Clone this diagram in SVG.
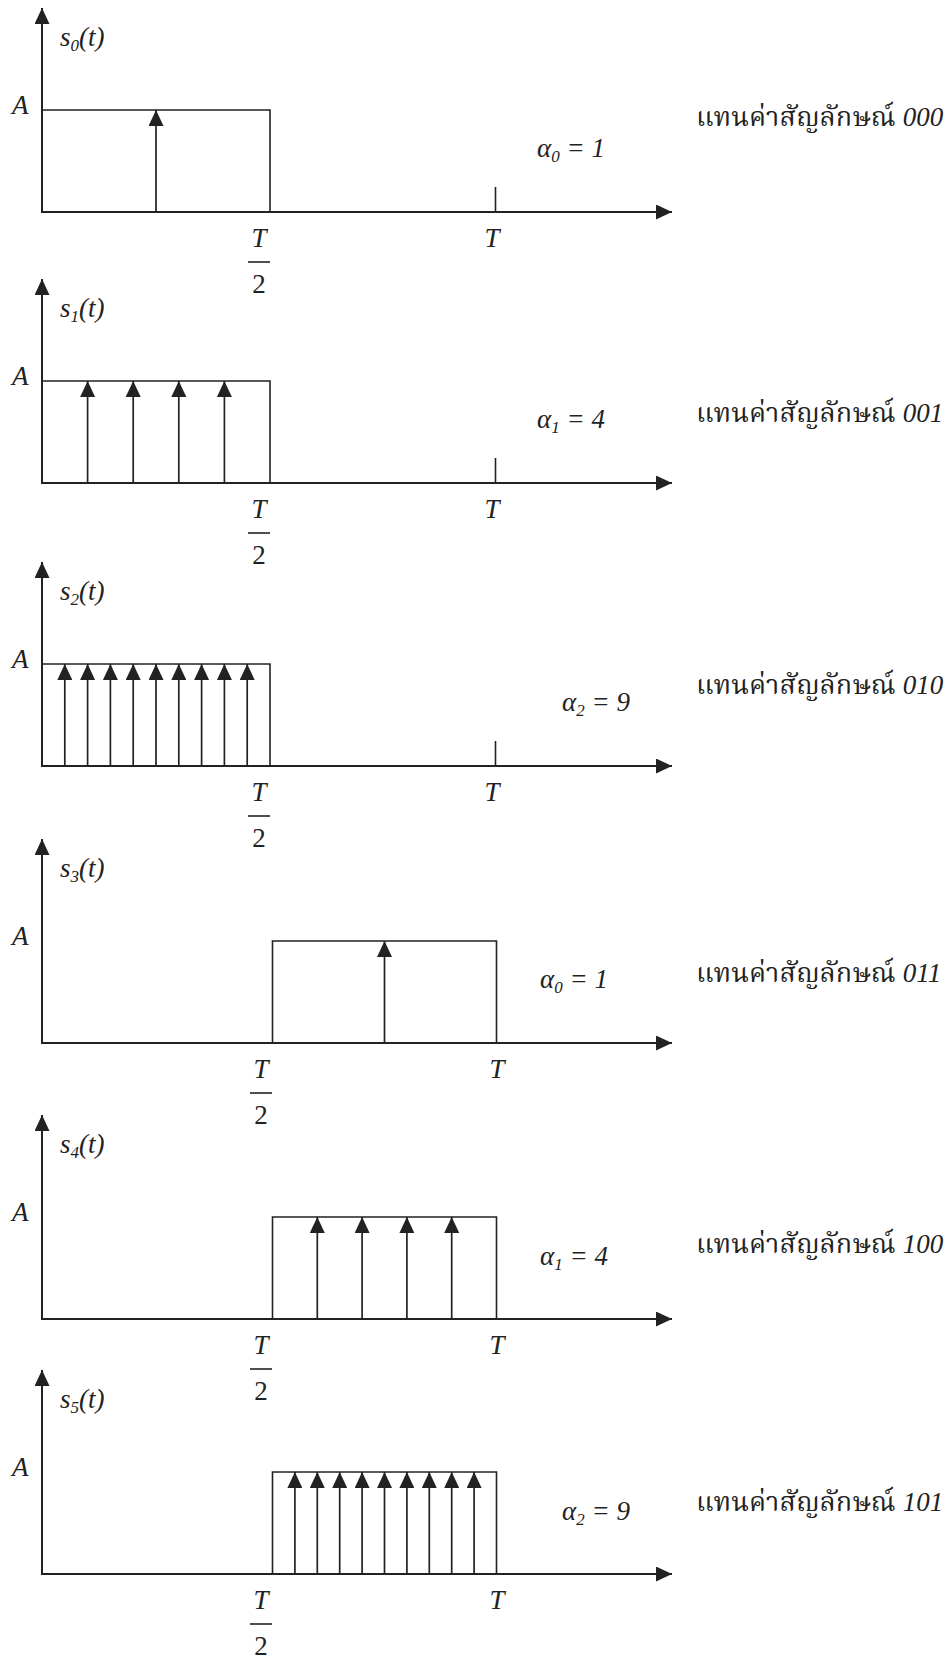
<svg xmlns="http://www.w3.org/2000/svg" width="944" height="1658" viewBox="0 0 944 1658">
<defs>
<marker id="ah" viewBox="0 0 16 15" refX="16" refY="7.5" markerWidth="16" markerHeight="15" markerUnits="userSpaceOnUse" orient="auto">
<path d="M0,0 L16,7.5 L0,15 Z" fill="#222"/>
</marker>
<style>
.ar{stroke:#222;stroke-width:2;fill:none;marker-end:url(#ah)}
.rc{stroke:#222;stroke-width:1.6;fill:none}
.im{stroke:#222;stroke-width:1.7;fill:none;marker-end:url(#ah)}
.tk{stroke:#222;stroke-width:1.6}
.m{font-family:'Liberation Serif','Times New Roman',serif;font-style:italic;font-size:27px;fill:#222}
.n{font-family:'Liberation Serif','Times New Roman',serif;font-size:27px;fill:#222}
.th{font-family:'Kinnari','Norasi','Noto Serif Thai','Noto Sans Thai Looped','Noto Sans Thai','Noto Sans',sans-serif;font-size:27px;fill:#222}
.sb{font-size:17px}
</style>
</defs>
<rect width="944" height="1658" fill="#fff"/>

<g id="panel-s0">
<line class="ar" x1="42" y1="212" x2="42" y2="8"/>
<line class="ar" x1="41" y1="212" x2="672" y2="212"/>
<polyline class="rc" points="42,110 270,110 270,212"/>
<line class="im" x1="156" y1="212" x2="156" y2="110"/>
<line class="tk" x1="495.5" y1="187" x2="495.5" y2="212"/>
<text class="m" x="60" y="46">s<tspan class="sb" dy="5">0</tspan><tspan dy="-5">(t)</tspan></text>
<text class="m" x="12" y="114">A</text>
<text class="m" x="259" y="247" text-anchor="middle">T</text>
<line class="tk" x1="248" y1="262" x2="270" y2="262"/>
<text class="n" x="259" y="293" text-anchor="middle">2</text>
<text class="m" x="492" y="247" text-anchor="middle">T</text>
<text class="m" x="537" y="157">α<tspan class="sb" dy="5">0</tspan><tspan dy="-5"> = 1</tspan></text>
<text class="th" x="696" y="126">แทนค่าสัญลักษณ์ <tspan class="m">000</tspan></text>
</g>

<g id="panel-s1">
<line class="ar" x1="42" y1="483" x2="42" y2="279"/>
<line class="ar" x1="41" y1="483" x2="672" y2="483"/>
<polyline class="rc" points="42,381 270,381 270,483"/>
<line class="im" x1="87.6" y1="483" x2="87.6" y2="381"/>
<line class="im" x1="133.2" y1="483" x2="133.2" y2="381"/>
<line class="im" x1="178.8" y1="483" x2="178.8" y2="381"/>
<line class="im" x1="224.4" y1="483" x2="224.4" y2="381"/>
<line class="tk" x1="495.5" y1="458" x2="495.5" y2="483"/>
<text class="m" x="60" y="317">s<tspan class="sb" dy="5">1</tspan><tspan dy="-5">(t)</tspan></text>
<text class="m" x="12" y="385">A</text>
<text class="m" x="259" y="518" text-anchor="middle">T</text>
<line class="tk" x1="248" y1="533" x2="270" y2="533"/>
<text class="n" x="259" y="564" text-anchor="middle">2</text>
<text class="m" x="492" y="518" text-anchor="middle">T</text>
<text class="m" x="537" y="428">α<tspan class="sb" dy="5">1</tspan><tspan dy="-5"> = 4</tspan></text>
<text class="th" x="696" y="422">แทนค่าสัญลักษณ์ <tspan class="m">001</tspan></text>
</g>

<g id="panel-s2">
<line class="ar" x1="42" y1="766" x2="42" y2="562"/>
<line class="ar" x1="41" y1="766" x2="672" y2="766"/>
<polyline class="rc" points="42,664 270,664 270,766"/>
<line class="im" x1="64.8" y1="766" x2="64.8" y2="664"/>
<line class="im" x1="87.6" y1="766" x2="87.6" y2="664"/>
<line class="im" x1="110.4" y1="766" x2="110.4" y2="664"/>
<line class="im" x1="133.2" y1="766" x2="133.2" y2="664"/>
<line class="im" x1="156" y1="766" x2="156" y2="664"/>
<line class="im" x1="178.8" y1="766" x2="178.8" y2="664"/>
<line class="im" x1="201.6" y1="766" x2="201.6" y2="664"/>
<line class="im" x1="224.4" y1="766" x2="224.4" y2="664"/>
<line class="im" x1="247.2" y1="766" x2="247.2" y2="664"/>
<line class="tk" x1="495.5" y1="741" x2="495.5" y2="766"/>
<text class="m" x="60" y="600">s<tspan class="sb" dy="5">2</tspan><tspan dy="-5">(t)</tspan></text>
<text class="m" x="12" y="668">A</text>
<text class="m" x="259" y="801" text-anchor="middle">T</text>
<line class="tk" x1="248" y1="816" x2="270" y2="816"/>
<text class="n" x="259" y="847" text-anchor="middle">2</text>
<text class="m" x="492" y="801" text-anchor="middle">T</text>
<text class="m" x="562" y="711">α<tspan class="sb" dy="5">2</tspan><tspan dy="-5"> = 9</tspan></text>
<text class="th" x="696" y="694">แทนค่าสัญลักษณ์ <tspan class="m">010</tspan></text>
</g>

<g id="panel-s3">
<line class="ar" x1="42" y1="1043" x2="42" y2="839"/>
<line class="ar" x1="41" y1="1043" x2="672" y2="1043"/>
<polyline class="rc" points="272.5,1043 272.5,941 496.5,941 496.5,1043"/>
<line class="im" x1="384.5" y1="1043" x2="384.5" y2="941"/>
<text class="m" x="60" y="877">s<tspan class="sb" dy="5">3</tspan><tspan dy="-5">(t)</tspan></text>
<text class="m" x="12" y="945">A</text>
<text class="m" x="261" y="1078" text-anchor="middle">T</text>
<line class="tk" x1="250" y1="1093" x2="272" y2="1093"/>
<text class="n" x="261" y="1124" text-anchor="middle">2</text>
<text class="m" x="497" y="1078" text-anchor="middle">T</text>
<text class="m" x="540" y="988">α<tspan class="sb" dy="5">0</tspan><tspan dy="-5"> = 1</tspan></text>
<text class="th" x="696" y="982">แทนค่าสัญลักษณ์ <tspan class="m">011</tspan></text>
</g>

<g id="panel-s4">
<line class="ar" x1="42" y1="1319" x2="42" y2="1115"/>
<line class="ar" x1="41" y1="1319" x2="672" y2="1319"/>
<polyline class="rc" points="272.5,1319 272.5,1217 496.5,1217 496.5,1319"/>
<line class="im" x1="317.3" y1="1319" x2="317.3" y2="1217"/>
<line class="im" x1="362.1" y1="1319" x2="362.1" y2="1217"/>
<line class="im" x1="406.9" y1="1319" x2="406.9" y2="1217"/>
<line class="im" x1="451.7" y1="1319" x2="451.7" y2="1217"/>
<text class="m" x="60" y="1153">s<tspan class="sb" dy="5">4</tspan><tspan dy="-5">(t)</tspan></text>
<text class="m" x="12" y="1221">A</text>
<text class="m" x="261" y="1354" text-anchor="middle">T</text>
<line class="tk" x1="250" y1="1369" x2="272" y2="1369"/>
<text class="n" x="261" y="1400" text-anchor="middle">2</text>
<text class="m" x="497" y="1354" text-anchor="middle">T</text>
<text class="m" x="540" y="1265">α<tspan class="sb" dy="5">1</tspan><tspan dy="-5"> = 4</tspan></text>
<text class="th" x="696" y="1253">แทนค่าสัญลักษณ์ <tspan class="m">100</tspan></text>
</g>

<g id="panel-s5">
<line class="ar" x1="42" y1="1574" x2="42" y2="1370"/>
<line class="ar" x1="41" y1="1574" x2="672" y2="1574"/>
<polyline class="rc" points="272.5,1574 272.5,1472 496.5,1472 496.5,1574"/>
<line class="im" x1="294.9" y1="1574" x2="294.9" y2="1472"/>
<line class="im" x1="317.3" y1="1574" x2="317.3" y2="1472"/>
<line class="im" x1="339.7" y1="1574" x2="339.7" y2="1472"/>
<line class="im" x1="362.1" y1="1574" x2="362.1" y2="1472"/>
<line class="im" x1="384.5" y1="1574" x2="384.5" y2="1472"/>
<line class="im" x1="406.9" y1="1574" x2="406.9" y2="1472"/>
<line class="im" x1="429.3" y1="1574" x2="429.3" y2="1472"/>
<line class="im" x1="451.7" y1="1574" x2="451.7" y2="1472"/>
<line class="im" x1="474.1" y1="1574" x2="474.1" y2="1472"/>
<text class="m" x="60" y="1408">s<tspan class="sb" dy="5">5</tspan><tspan dy="-5">(t)</tspan></text>
<text class="m" x="12" y="1476">A</text>
<text class="m" x="261" y="1609" text-anchor="middle">T</text>
<line class="tk" x1="250" y1="1624" x2="272" y2="1624"/>
<text class="n" x="261" y="1655" text-anchor="middle">2</text>
<text class="m" x="497" y="1609" text-anchor="middle">T</text>
<text class="m" x="562" y="1520">α<tspan class="sb" dy="5">2</tspan><tspan dy="-5"> = 9</tspan></text>
<text class="th" x="696" y="1511">แทนค่าสัญลักษณ์ <tspan class="m">101</tspan></text>
</g>
</svg>
